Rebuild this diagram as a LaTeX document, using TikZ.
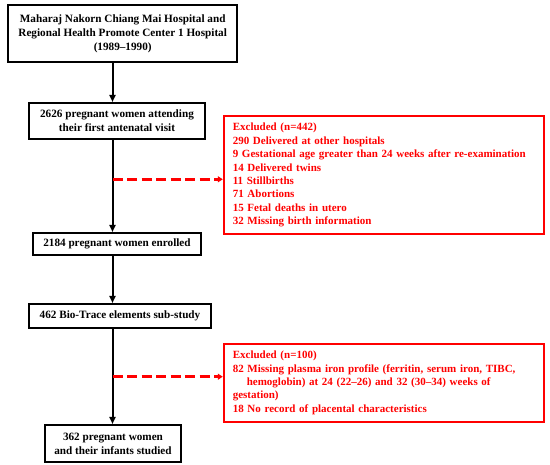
\documentclass[tikz,border=0pt]{standalone}
\usepackage{fontspec}
\setmainfont{Liberation Serif}
\usetikzlibrary{arrows.meta}
\definecolor{exred}{RGB}{255,0,0}
\begin{document}
\begin{tikzpicture}[x=1pt,y=-1pt,
  blackbox/.style={draw=black,line width=2pt,rectangle,align=center,inner sep=0pt,
    font=\fontsize{11.2}{14}\selectfont\bfseries},
  redbox/.style={draw=exred,line width=2pt,rectangle,align=left,inner xsep=9pt,inner ysep=0pt,
    text=exred,font=\fontsize{11}{13.43}\selectfont\bfseries},
  mainarrow/.style={draw=black,line width=2pt,-{Triangle[length=7pt,width=6pt]}},
  exarrow/.style={draw=exred,line width=2.5pt,dash pattern=on 10pt off 4.5pt,
    -{Triangle[length=5pt,width=6pt]}}]
\useasboundingbox (0,0) rectangle (550,465);
\coordinate (sp) at (112.5,0);
\node[blackbox,minimum width=229pt,minimum height=57pt] (b1) at (122.7,33.5)
  {Maharaj Nakorn Chiang Mai Hospital and\\Regional Health Promote Center 1 Hospital\\(1989--1990)};
\node[blackbox,minimum width=176pt,minimum height=36pt] (b2) at (117,121)
  {2626 pregnant women attending\\their first antenatal visit};
\node[blackbox,minimum width=168pt,minimum height=22pt] (b3) at (117,244)
  {2184 pregnant women enrolled};
\node[blackbox,minimum width=182pt,minimum height=24pt] (b4) at (120,316)
  {462 Bio-Trace elements sub-study};
\node[blackbox,minimum width=136pt,minimum height=37pt] (b5) at (113,443.5)
  {362 pregnant women\\and their infants studied};
\node[redbox,text width=302pt,minimum height=118pt] (r1) at (383.8,175.2)
  {Excluded (n=442)\\290 Delivered at other hospitals\\9 Gestational age greater than 24 weeks after re-examination\\14 Delivered twins\\11 Stillbirths\\71 Abortions\\15 Fetal deaths in utero\\32 Missing birth information};
\node[redbox,text width=302pt,minimum height=77.7pt] (r2) at (383.8,382.8)
  {Excluded (n=100)\\82 Missing plasma iron profile (ferritin, serum iron, TIBC,\\\hspace*{14pt}hemoglobin) at 24 (22--26) and 32 (30--34) weeks of\\gestation)\\18 No record of placental characteristics};
\draw[mainarrow] (b1.south -| sp) -- (b2.north -| sp);
\draw[mainarrow] (b2.south -| sp) -- (b3.north -| sp);
\draw[mainarrow] (b3.south -| sp) -- (b4.north -| sp);
\draw[mainarrow] (b4.south -| sp) -- (b5.north -| sp);
\coordinate (d1) at (112.5,179.3);
\coordinate (d2) at (112.5,376.7);
\draw[exarrow] (d1) -- (d1 -| r1.west);
\draw[exarrow] (d2) -- (d2 -| r2.west);
\end{tikzpicture}
\end{document}
